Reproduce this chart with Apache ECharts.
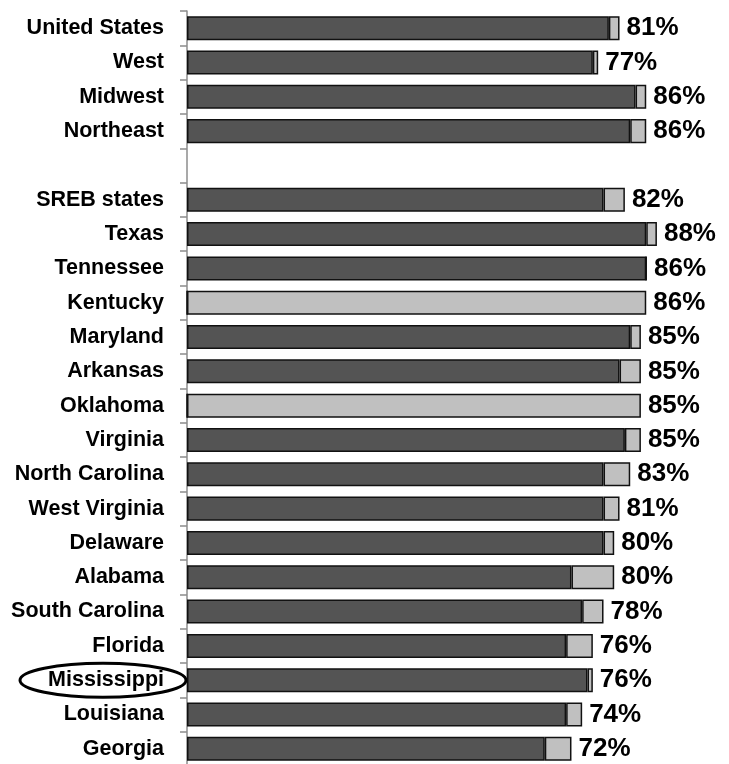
<!DOCTYPE html>
<html>
<head>
<meta charset="utf-8">
<script src="https://cdn.jsdelivr.net/npm/echarts@6/dist/echarts.min.js"></script>
<style>
html,body{margin:0;padding:0;background:#fff;}
#main{width:729px;height:764px;}
</style>
</head>
<body>
<div id="main"></div>
<script>
var categories = ['United States','West','Midwest','Northeast','','SREB states','Texas','Tennessee','Kentucky','Maryland','Arkansas','Oklahoma','Virginia','North Carolina','West Virginia','Delaware','Alabama','South Carolina','Florida','Mississippi','Louisiana','Georgia'];
var darkValues  = [79, 76, 84, 83, '-', 78, 86, 86, 0, 83, 81, 0, 82, 78, 78, 78, 72, 74, 71, 75, 71, 67];
var lightValues = [ 2,  1,  2,  3, '-',  4,  2,  0, 86, 2,  4, 85,  3,  5,  3,  2,  8,  4,  5,  1,  3,  5];
var highlighted = 'Mississippi';

var chart = echarts.init(document.getElementById('main'));
var font = '"Liberation Sans", Arial, sans-serif';
var option = {
  animation: false,
  grid: { left: 187, right: 8, top: 11, bottom: -2, containLabel: false, outerBoundsMode: 'none' },
  xAxis: { type: 'value', min: 0, max: 100, show: false, splitLine: { show: false } },
  yAxis: {
    type: 'category', data: categories, inverse: true,
    axisLine: { show: true, lineStyle: { color: '#8c8c8c', width: 1.5 } },
    axisTick: { show: true, length: 7, lineStyle: { color: '#8c8c8c', width: 1.5 } },
    axisLabel: { margin: 23, color: '#000', fontFamily: font, fontWeight: 'bold', fontSize: 21.5 }
  },
  series: [
    { type: 'bar', stack: 'a', data: darkValues, barWidth: '70%',
      itemStyle: { color: '#545454', borderColor: '#111', borderWidth: 1.5 } },
    { type: 'bar', stack: 'a', data: lightValues, barWidth: '70%',
      itemStyle: { color: '#c0c0c0', borderColor: '#111', borderWidth: 1.5 },
      label: { show: true, position: 'right', distance: 7, color: '#000', fontFamily: font,
        fontWeight: 'bold', fontSize: 26,
        formatter: function (p) {
          var d = darkValues[p.dataIndex], l = lightValues[p.dataIndex];
          if (l === '-') return '';
          return (d + l) + '%';
        } } }
  ]
};
chart.setOption(option);
var cy = chart.convertToPixel({ yAxisIndex: 0 }, highlighted);
chart.setOption({
  graphic: [{ type: 'ellipse', shape: { cx: 103, cy: cy, rx: 83, ry: 17 },
    style: { fill: 'none', stroke: '#000', lineWidth: 3 }, z: 100 }]
});
</script>
</body>
</html>
